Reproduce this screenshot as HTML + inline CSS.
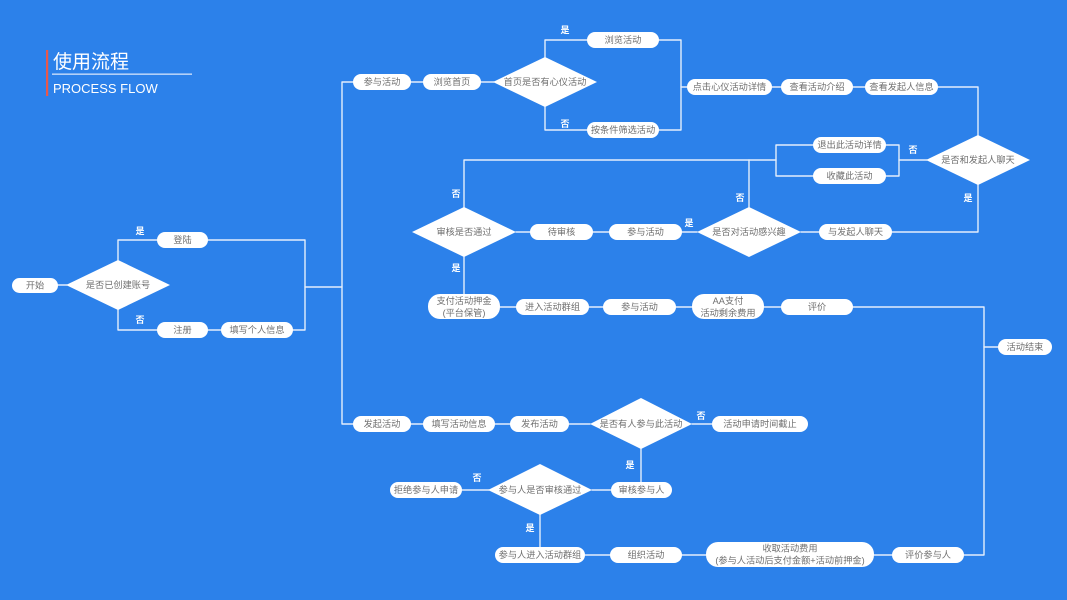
<!DOCTYPE html>
<html><head><meta charset="utf-8">
<style>
html,body{margin:0;padding:0;background:#2c81ea;}
svg{display:block;}
text{font-family:"Liberation Sans","Noto Sans CJK SC",sans-serif;}
.p{fill:#fff;}
.t{fill:#6f6f6f;font-size:9.2px;text-anchor:middle;dominant-baseline:central;}
.l{fill:#fff;font-size:9px;font-weight:bold;text-anchor:middle;dominant-baseline:central;}
.ln{fill:none;stroke:#e4eefc;stroke-width:1.4;stroke-linejoin:round;stroke-linecap:round;}
</style></head>
<body>
<svg width="1067" height="600" viewBox="0 0 1067 600" xmlns="http://www.w3.org/2000/svg">
<rect width="1067" height="600" fill="#2c81ea"/>
<!-- title -->
<rect x="46" y="50" width="2.2" height="46" fill="#e8584a"/>
<text x="53" y="68" style="font-size:19px;fill:#fff;">使用流程</text>
<rect x="52" y="73.5" width="140" height="1.3" fill="#d5e4fb"/>
<text x="53" y="93" style="font-size:13px;fill:#fff;">PROCESS FLOW</text>

<!-- lines -->
<g class="ln">
<path d="M58,285 H67"/>
<path d="M118,260 V240 H157"/>
<path d="M118,310 V330 H157"/>
<path d="M208,240 H305 V330 H293"/>
<path d="M208,330 H221"/>
<path d="M305,287 H342"/>
<path d="M353,82 H342 V424 H353"/>
<path d="M411,82 H423"/>
<path d="M481,82 H494"/>
<path d="M545,57 V40 H587"/>
<path d="M545,107 V130 H587"/>
<path d="M659,40 H681 V130 H659"/>
<path d="M681,87 H687"/>
<path d="M772,87 H781"/>
<path d="M853,87 H865"/>
<path d="M938,87 H978 V135"/>
<path d="M927,160 H899"/>
<path d="M886,145 H899 V176 H886"/>
<path d="M813,145 H776 V176 H813"/>
<path d="M776,160 H464 V207"/>
<path d="M749,160 V207"/>
<path d="M978,185 V232 H892"/>
<path d="M819,232 H801"/>
<path d="M697,232 H682"/>
<path d="M609,232 H593"/>
<path d="M530,232 H516"/>
<path d="M464,257 V294"/>
<path d="M500,307 H516"/>
<path d="M589,307 H603"/>
<path d="M676,307 H692"/>
<path d="M764,307 H781"/>
<path d="M853,307 H984 V555 H964"/>
<path d="M984,347 H998"/>
<path d="M411,424 H423"/>
<path d="M495,424 H510"/>
<path d="M569,424 H590"/>
<path d="M692,424 H712"/>
<path d="M641,449 V482"/>
<path d="M611,490 H592"/>
<path d="M489,490 H462"/>
<path d="M540,515 V547"/>
<path d="M585,555 H610"/>
<path d="M682,555 H706"/>
<path d="M874,555 H892"/>
</g>

<!-- diamonds -->
<g class="p">
<polygon points="66,285 118,260 170,285 118,310"/>
<polygon points="493,82 545,57 597,82 545,107"/>
<polygon points="926,160 978,135 1030,160 978,185"/>
<polygon points="697,232 749,207 801,232 749,257"/>
<polygon points="412,232 464,207 516,232 464,257"/>
<polygon points="590,424 641,398 692,424 641,449"/>
<polygon points="488,490 540,464 592,490 540,515"/>
</g>
<text class="t" x="118" y="285">是否已创建账号</text>
<text class="t" x="545" y="82">首页是否有心仪活动</text>
<text class="t" x="978" y="160">是否和发起人聊天</text>
<text class="t" x="749" y="232">是否对活动感兴趣</text>
<text class="t" x="464" y="232">审核是否通过</text>
<text class="t" x="641" y="424">是否有人参与此活动</text>
<text class="t" x="540" y="490">参与人是否审核通过</text>

<!-- pills -->
<g class="p">
<rect x="12" y="278" width="46" height="15" rx="7.5"/>
<rect x="157" y="232" width="51" height="16" rx="8"/>
<rect x="157" y="322" width="51" height="16" rx="8"/>
<rect x="221" y="322" width="72" height="16" rx="8"/>
<rect x="353" y="74" width="58" height="16" rx="8"/>
<rect x="423" y="74" width="58" height="16" rx="8"/>
<rect x="587" y="32" width="72" height="16" rx="8"/>
<rect x="587" y="122" width="72" height="16" rx="8"/>
<rect x="687" y="79" width="85" height="16" rx="8"/>
<rect x="781" y="79" width="72" height="16" rx="8"/>
<rect x="865" y="79" width="73" height="16" rx="8"/>
<rect x="813" y="137" width="73" height="16" rx="8"/>
<rect x="813" y="168" width="73" height="16" rx="8"/>
<rect x="819" y="224" width="73" height="16" rx="8"/>
<rect x="609" y="224" width="73" height="16" rx="8"/>
<rect x="530" y="224" width="63" height="16" rx="8"/>
<rect x="428" y="294" width="72" height="25" rx="12"/>
<rect x="516" y="299" width="73" height="16" rx="8"/>
<rect x="603" y="299" width="73" height="16" rx="8"/>
<rect x="692" y="294" width="72" height="25" rx="12"/>
<rect x="781" y="299" width="72" height="16" rx="8"/>
<rect x="998" y="339" width="54" height="16" rx="8"/>
<rect x="353" y="416" width="58" height="16" rx="8"/>
<rect x="423" y="416" width="72" height="16" rx="8"/>
<rect x="510" y="416" width="59" height="16" rx="8"/>
<rect x="712" y="416" width="96" height="16" rx="8"/>
<rect x="611" y="482" width="61" height="16" rx="8"/>
<rect x="390" y="482" width="72" height="16" rx="8"/>
<rect x="495" y="547" width="90" height="16" rx="8"/>
<rect x="610" y="547" width="72" height="16" rx="8"/>
<rect x="706" y="542" width="168" height="25" rx="12"/>
<rect x="892" y="547" width="72" height="16" rx="8"/>
</g>
<text class="t" x="35" y="285.5">开始</text>
<text class="t" x="182.5" y="240">登陆</text>
<text class="t" x="182.5" y="330">注册</text>
<text class="t" x="257" y="330">填写个人信息</text>
<text class="t" x="382" y="82">参与活动</text>
<text class="t" x="452" y="82">浏览首页</text>
<text class="t" x="623" y="40">浏览活动</text>
<text class="t" x="623" y="130">按条件筛选活动</text>
<text class="t" x="729.5" y="87">点击心仪活动详情</text>
<text class="t" x="817" y="87">查看活动介绍</text>
<text class="t" x="901.5" y="87">查看发起人信息</text>
<text class="t" x="849.5" y="145">退出此活动详情</text>
<text class="t" x="849.5" y="176">收藏此活动</text>
<text class="t" x="855.5" y="232">与发起人聊天</text>
<text class="t" x="645.5" y="232">参与活动</text>
<text class="t" x="561.5" y="232">待审核</text>
<text class="t" x="464" y="301">支付活动押金</text>
<text class="t" x="464" y="313">(平台保管)</text>
<text class="t" x="552.5" y="307">进入活动群组</text>
<text class="t" x="639.5" y="307">参与活动</text>
<text class="t" x="728" y="301">AA支付</text>
<text class="t" x="728" y="313">活动剩余费用</text>
<text class="t" x="817" y="307">评价</text>
<text class="t" x="1025" y="347">活动结束</text>
<text class="t" x="382" y="424">发起活动</text>
<text class="t" x="459" y="424">填写活动信息</text>
<text class="t" x="539.5" y="424">发布活动</text>
<text class="t" x="760" y="424">活动申请时间截止</text>
<text class="t" x="641.5" y="490">审核参与人</text>
<text class="t" x="426" y="490">拒绝参与人申请</text>
<text class="t" x="540" y="555">参与人进入活动群组</text>
<text class="t" x="646" y="555">组织活动</text>
<text class="t" x="790" y="548.5">收取活动费用</text>
<text class="t" x="790" y="560.5">(参与人活动后支付金额+活动前押金)</text>
<text class="t" x="928" y="555">评价参与人</text>

<!-- yes/no labels -->
<text class="l" x="140" y="231">是</text>
<text class="l" x="140" y="320">否</text>
<text class="l" x="565" y="30">是</text>
<text class="l" x="565" y="124">否</text>
<text class="l" x="913" y="150">否</text>
<text class="l" x="968" y="198">是</text>
<text class="l" x="740" y="198">否</text>
<text class="l" x="689" y="223">是</text>
<text class="l" x="456" y="194">否</text>
<text class="l" x="456" y="268">是</text>
<text class="l" x="701" y="416">否</text>
<text class="l" x="630" y="465">是</text>
<text class="l" x="477" y="478">否</text>
<text class="l" x="530" y="528">是</text>
</svg>
</body></html>
